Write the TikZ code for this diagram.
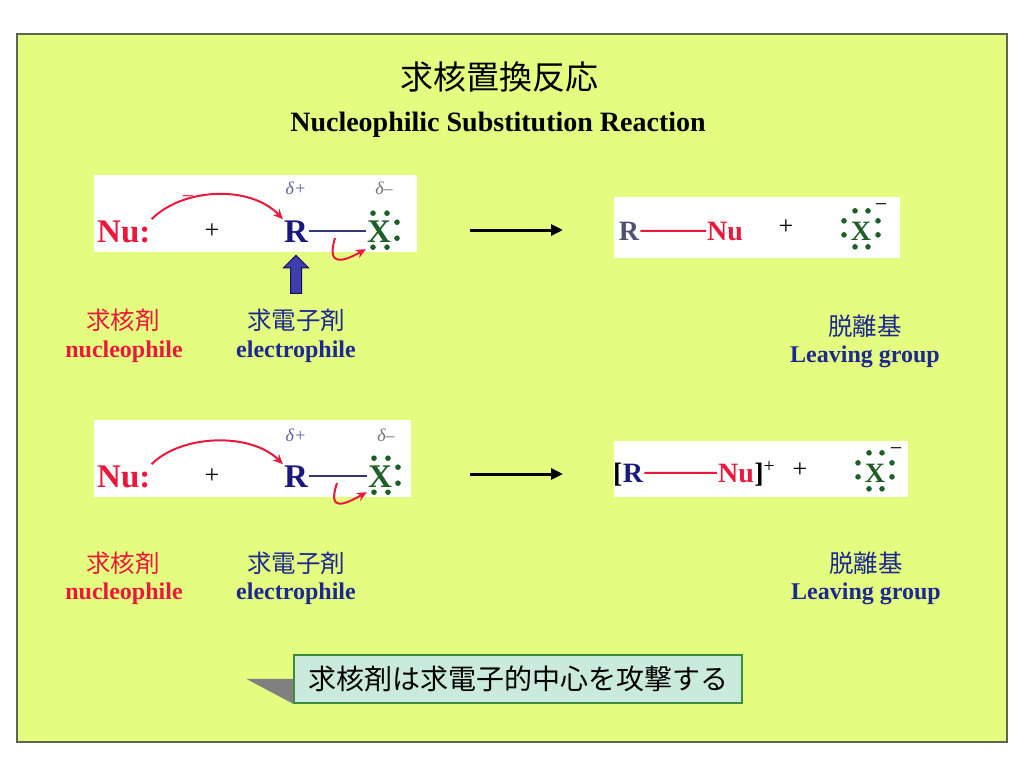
\documentclass[tikz,border=0pt]{standalone}
\usepackage{fontspec}
\setmainfont{Liberation Serif}
\newfontfamily\jpfont{Noto Sans CJK JP}
\usepackage{tikz}
\usetikzlibrary{shapes.arrows, arrows.meta, positioning, fit, backgrounds, calc}
\definecolor{slidecolor}{RGB}{228,253,128}
\definecolor{framecolor}{RGB}{95,100,75}
\definecolor{nured}{RGB}{232,25,60}
\definecolor{elblue}{RGB}{30,40,145}
\definecolor{rnavy}{RGB}{25,25,125}
\definecolor{xgreen}{RGB}{30,95,40}
\definecolor{bondcolor}{RGB}{55,55,115}
\definecolor{pushcolor}{RGB}{62,62,172}
\definecolor{callfill}{RGB}{203,234,222}
\definecolor{callline}{RGB}{60,140,60}

\begin{document}
\begin{tikzpicture}[
    x=1pt, y=-1pt,
    frame/.style={draw=framecolor, line width=1.4pt, fill=slidecolor},
    panel/.style={fill=white, inner sep=0pt},
    chem/.style={font=\fontsize{33}{35}\selectfont\bfseries, inner sep=1pt, anchor=base},
    prod/.style={font=\fontsize{28}{30}\selectfont\bfseries, inner sep=1pt, anchor=base},
    plus/.style={font=\fontsize{26}{28}\selectfont, inner sep=0pt},
    delta/.style={font=\fontsize{18}{20}\selectfont\itshape, inner sep=0pt},
    jplabel/.style={font=\jpfont\fontsize{24.5}{26}\selectfont, inner sep=0pt},
    enlabel/.style={font=\fontsize{24}{26}\selectfont\bfseries, inner sep=0pt},
    attack/.style={-{Stealth[length=10pt,width=9pt]}, line width=2pt, nured},
    react/.style={-{Triangle[length=12pt,width=11pt]}, line width=3pt, black},
    bond/.style={line width=2.2pt, bondcolor},
    push/.style={single arrow, shape border rotate=90, draw=rnavy!70!black, line width=1pt, fill=pushcolor,
        minimum height=38pt, inner sep=5pt, single arrow head extend=7pt}
]
    \useasboundingbox (0,0) rectangle (1024,768);

    % Slide frame and white panels
    \draw[frame] (17,34) rectangle (1007,742);
    \node[panel, fit={(94,175) (417,252)}] (lhsA) {};
    \node[panel, fit={(614,197) (900,258)}] (rhsA) {};
    \node[panel, fit={(94,420) (411,497)}] (lhsB) {};
    \node[panel, fit={(614,441) (908,497)}] (rhsB) {};

    % Titles
    \node[font=\jpfont\fontsize{33}{35}\selectfont] (title) at (499,77) {求核置換反応};
    \node[font=\fontsize{28}{30}\selectfont\bfseries] (subtitle) at (498,125) {Nucleophilic Substitution Reaction};

    % Upper reaction: reactants
    \node[chem, text=nured, anchor=base west] (nuA) at (96,242) {Nu:};
    \node[font=\fontsize{22}{24}\selectfont, text=nured, inner sep=0pt] (chgA) at (188,200) {−};
    \node[plus] (plusA) at (212,231) {+};
    \node[chem, text=rnavy] (rA) at (296,242) {R};
    \node[chem, text=xgreen] (xA) at (379,242) {X};
    \node[delta, text=rnavy!70] (dpA) at (296,188) {δ+};
    \node[delta, text=black!55] (dmA) at (384,188) {δ–};
    \draw[bond] (rA) -- (xA);
    \foreach \dx/\dy in {-6/-18, 8/-18, -6/16, 8/16, 18/-9, 18/7}
        \fill[xgreen] ($(xA.center)+(\dx,\dy)$) circle (2.8pt);
    \coordinate (bondA) at (335,238);
    \draw[attack] (nuA.north east) .. controls +(32,-32) and +(-32,-34) .. (rA.north west);
    \draw[attack] (bondA) .. controls +(-9,30) and +(-22,12) .. ([yshift=-6pt]xA.south west);
    \node[push] (pushA) at (296,277) {};

    % Upper reaction: products
    \node[prod, text={rgb,255:red,80;green,80;blue,115}] (rC) at (629,240) {R};
    \node[prod, text=nured, anchor=base west] (nuC) at (706,240) {Nu};
    \draw[line width=2pt, nured] (rC) -- (nuC);
    \node[plus] (plusC) at (786,227) {+};
    \node[prod, text=xgreen] (xC) at (861,240) {X};
    \node[font=\fontsize{22}{24}\selectfont, inner sep=0pt] (chgC) at (881,208) {−};
    \foreach \dx/\dy in {-6/-20, 7/-20, -17/-10, -17/4, 17/-10, 17/4, -6/16, 7/16}
        \fill[xgreen] ($(xC.center)+(\dx,\dy)$) circle (2.8pt);

    \coordinate (goA) at (470,230);
    \coordinate (toA) at (563,230);
    \draw[react] (goA) -- (toA);

    % Upper labels
    \node[jplabel, text=nured] (nujA) at (123,320) {求核剤};
    \node[enlabel, text=nured] (nuenA) at (124,352) {nucleophile};
    \node[jplabel, text=elblue] (eljA) at (296,320) {求電子剤};
    \node[enlabel, text=elblue] (elenA) at (296,352) {electrophile};
    \node[jplabel, text=elblue] (lvjA) at (865,326) {脱離基};
    \node[enlabel, text=elblue] (lvenA) at (865,357) {Leaving group};

    % Lower reaction: reactants
    \node[chem, text=nured, anchor=base west] (nuB) at (96,487) {Nu:};
    \node[plus] (plusB) at (212,476) {+};
    \node[chem, text=rnavy] (rB) at (296,487) {R};
    \node[chem, text=xgreen] (xB) at (380,487) {X};
    \node[delta, text=rnavy!70] (dpB) at (296,435) {δ+};
    \node[delta, text=black!55] (dmB) at (386,435) {δ–};
    \draw[bond] (rB) -- (xB);
    \foreach \dx/\dy in {-6/-18, 8/-18, -6/16, 8/16, 18/-9, 18/7}
        \fill[xgreen] ($(xB.center)+(\dx,\dy)$) circle (2.8pt);
    \coordinate (bondB) at (337,483);
    \draw[attack] (nuB.north east) .. controls +(30,-30) and +(-32,-32) .. (rB.north west);
    \draw[attack] (bondB) .. controls +(-10,30) and +(-22,12) .. ([yshift=-4pt]xB.south west);

    % Lower reaction: products
    \node[prod, text=rnavy] (rD) at (633,482) {R};
    \node[prod, anchor=base east] (lbD) at ([xshift=2pt]rD.base west) {[};
    \node[prod, text=nured, anchor=base west] (nuD) at (717,482) {Nu};
    \node[prod, anchor=base west] (rbD) at ([xshift=-2pt]nuD.base east) {]\textsuperscript{\mdseries+}};
    \draw[line width=2pt, nured] (rD) -- (nuD);
    \node[plus] (plusD) at (800,470) {+};
    \node[prod, text=xgreen] (xD) at (875,482) {X};
    \node[font=\fontsize{22}{24}\selectfont, inner sep=0pt] (chgD) at (896,452) {−};
    \foreach \dx/\dy in {-6/-20, 7/-20, -17/-10, -17/4, 17/-10, 17/4, -6/16, 7/16}
        \fill[xgreen] ($(xD.center)+(\dx,\dy)$) circle (2.8pt);

    \coordinate (goB) at (470,474);
    \coordinate (toB) at (563,474);
    \draw[react] (goB) -- (toB);

    % Lower labels
    \node[jplabel, text=nured] (nujB) at (123,563) {求核剤};
    \node[enlabel, text=nured] (nuenB) at (124,594) {nucleophile};
    \node[jplabel, text=elblue] (eljB) at (296,563) {求電子剤};
    \node[enlabel, text=elblue] (elenB) at (296,594) {electrophile};
    \node[jplabel, text=elblue] (lvjB) at (866,563) {脱離基};
    \node[enlabel, text=elblue] (lvenB) at (866,594) {Leaving group};

    % Callout
    \node[draw=callline, line width=1.6pt, fill=callfill, minimum width=448pt, minimum height=48pt,
        font=\jpfont\fontsize{28}{30}\selectfont, inner sep=0pt] (callout) at (518,679) {求核剤は求電子的中心を攻撃する};
    \fill[black!50] (callout.south west) -- ++(0,-25) -- ++(-47,0) -- cycle;
\end{tikzpicture}
\end{document}
